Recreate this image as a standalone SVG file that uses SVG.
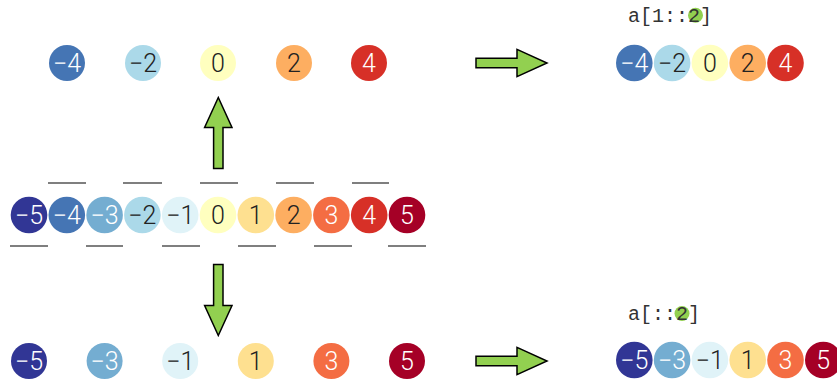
<svg xmlns="http://www.w3.org/2000/svg" width="837" height="383" viewBox="0 0 837 383">
<style>
.n text{font-family:Roboto,"Liberation Sans",sans-serif;font-weight:300;font-size:25px;text-anchor:middle}
.w{fill:#ffffff}.d{fill:#222222}
.bar{stroke:#555;stroke-width:1.5}
.arr{fill:#92d050;stroke:#000;stroke-width:1.5;stroke-linejoin:miter}
.lbl{font-family:"Liberation Mono",monospace;font-size:20px;fill:#333}
.hl{fill:#92d050}
</style>
<defs>
<path id="ra" d="M-35.5,-4.7 H5.5 V-13.7 L35.5,0 L5.5,13.7 V4.7 H-35.5 Z"/>
</defs>
<rect width="837" height="383" fill="#fff"/>
<!-- top row -->
<g id="top-row" class="n">
<g id="t-m4"><circle cx="67" cy="63" r="18" fill="#4575b4"/><text x="67" y="72" class="w">−4</text></g>
<g id="t-m2"><circle cx="143" cy="63" r="18" fill="#abd9e9"/><text x="143" y="72" class="d">−2</text></g>
<g id="t-0"><circle cx="218" cy="63" r="18" fill="#ffffbf"/><text x="218" y="72" class="d">0</text></g>
<g id="t-2"><circle cx="294" cy="63" r="18" fill="#fdae61"/><text x="294" y="72" class="d">2</text></g>
<g id="t-4"><circle cx="369" cy="63" r="18" fill="#d73027"/><text x="369" y="72" class="w">4</text></g>
</g>
<!-- middle row -->
<g id="mid-row" class="n">
<g id="m-m5"><circle cx="29" cy="215" r="18.3" fill="#313695"/><text x="29" y="224" class="w">−5</text></g>
<g id="m-m4"><circle cx="66.8" cy="215" r="18.3" fill="#4575b4"/><text x="66.8" y="224" class="w">−4</text></g>
<g id="m-m3"><circle cx="104.6" cy="215" r="18.3" fill="#74add1"/><text x="104.6" y="224" class="w">−3</text></g>
<g id="m-m2"><circle cx="142.4" cy="215" r="18.3" fill="#abd9e9"/><text x="142.4" y="224" class="d">−2</text></g>
<g id="m-m1"><circle cx="180.2" cy="215" r="18.3" fill="#e0f3f8"/><text x="180.2" y="224" class="d">−1</text></g>
<g id="m-0"><circle cx="218" cy="215" r="18.3" fill="#ffffbf"/><text x="218" y="224" class="d">0</text></g>
<g id="m-1"><circle cx="255.8" cy="215" r="18.3" fill="#fee090"/><text x="255.8" y="224" class="d">1</text></g>
<g id="m-2"><circle cx="293.6" cy="215" r="18.3" fill="#fdae61"/><text x="293.6" y="224" class="d">2</text></g>
<g id="m-3"><circle cx="331.4" cy="215" r="18.3" fill="#f46d43"/><text x="331.4" y="224" class="w">3</text></g>
<g id="m-4"><circle cx="369.2" cy="215" r="18.3" fill="#d73027"/><text x="369.2" y="224" class="w">4</text></g>
<g id="m-5"><circle cx="407" cy="215" r="18.3" fill="#a50026"/><text x="407" y="224" class="w">5</text></g>
</g>
<g id="bars" class="bar">
<line x1="48" y1="183" x2="86" y2="183"/>
<line x1="123" y1="183" x2="162" y2="183"/>
<line x1="200" y1="183" x2="238" y2="183"/>
<line x1="276" y1="183" x2="314" y2="183"/>
<line x1="352" y1="183" x2="389" y2="183"/>
<line x1="10" y1="246" x2="48" y2="246"/>
<line x1="86" y1="246" x2="123" y2="246"/>
<line x1="162" y1="246" x2="200" y2="246"/>
<line x1="238" y1="246" x2="276" y2="246"/>
<line x1="314" y1="246" x2="352" y2="246"/>
<line x1="388" y1="246" x2="426" y2="246"/>
</g>
<!-- bottom row -->
<g id="bot-row" class="n">
<g id="b-m5"><circle cx="29" cy="361" r="18" fill="#313695"/><text x="29" y="370" class="w">−5</text></g>
<g id="b-m3"><circle cx="104.6" cy="361" r="18" fill="#74add1"/><text x="104.6" y="370" class="w">−3</text></g>
<g id="b-m1"><circle cx="180.2" cy="361" r="18" fill="#e0f3f8"/><text x="180.2" y="370" class="d">−1</text></g>
<g id="b-1"><circle cx="255.8" cy="361" r="18" fill="#fee090"/><text x="255.8" y="370" class="d">1</text></g>
<g id="b-3"><circle cx="331.4" cy="361" r="18" fill="#f46d43"/><text x="331.4" y="370" class="w">3</text></g>
<g id="b-5"><circle cx="407" cy="361" r="18" fill="#a50026"/><text x="407" y="370" class="w">5</text></g>
</g>
<!-- right top result -->
<g id="res-top">
<circle class="hl" cx="695.5" cy="15.3" r="7.5"/>
<text class="lbl" x="628" y="22">a[1::2]</text>
<g class="n">
<g id="r1-m4"><circle cx="634.3" cy="63" r="18.3" fill="#4575b4"/><text x="634.3" y="72" class="w">−4</text></g>
<g id="r1-m2"><circle cx="672.1" cy="63" r="18.3" fill="#abd9e9"/><text x="672.1" y="72" class="d">−2</text></g>
<g id="r1-0"><circle cx="709.9" cy="63" r="18.3" fill="#ffffbf"/><text x="709.9" y="72" class="d">0</text></g>
<g id="r1-2"><circle cx="747.7" cy="63" r="18.3" fill="#fdae61"/><text x="747.7" y="72" class="d">2</text></g>
<g id="r1-4"><circle cx="785.5" cy="63" r="18.3" fill="#d73027"/><text x="785.5" y="72" class="w">4</text></g>
</g>
</g>
<!-- right bottom result -->
<g id="res-bot">
<circle class="hl" cx="682" cy="313.5" r="7.5"/>
<text class="lbl" x="628" y="320">a[::2]</text>
<g class="n">
<g id="r2-m5"><circle cx="634.3" cy="360" r="18.3" fill="#313695"/><text x="634.3" y="369" class="w">−5</text></g>
<g id="r2-m3"><circle cx="672.1" cy="360" r="18.3" fill="#74add1"/><text x="672.1" y="369" class="w">−3</text></g>
<g id="r2-m1"><circle cx="709.9" cy="360" r="18.3" fill="#e0f3f8"/><text x="709.9" y="369" class="d">−1</text></g>
<g id="r2-1"><circle cx="747.7" cy="360" r="18.3" fill="#fee090"/><text x="747.7" y="369" class="d">1</text></g>
<g id="r2-3"><circle cx="785.5" cy="360" r="18.3" fill="#f46d43"/><text x="785.5" y="369" class="w">3</text></g>
<g id="r2-5"><circle cx="823.3" cy="360" r="18.3" fill="#a50026"/><text x="823.3" y="369" class="w">5</text></g>
</g>
</g>
<!-- connectors -->
<g id="connectors">
<use href="#ra" class="arr" transform="translate(511.5,63)"/>
<use href="#ra" class="arr" transform="translate(511.5,361)"/>
<use href="#ra" class="arr" transform="translate(218.3,133) rotate(-90)"/>
<use href="#ra" class="arr" transform="translate(218.3,300) rotate(90)"/>
</g>
</svg>
